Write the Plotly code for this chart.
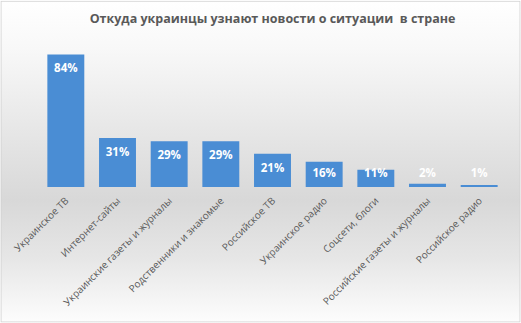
import base64
import plotly.graph_objects as go

categories = ["Украинское ТВ", "Интернет-сайты", "Украинские газеты и журналы",
              "Родственники и знакомые", "Российское ТВ", "Украинское радио",
              "Соцсети, блоги", "Российские газеты и журналы", "Российское радио"]
values = [84, 31, 29, 29, 21, 16, 11, 2, 1]
labels = [f"{v}%" for v in values]
title = "Откуда украинцы узнают новости о ситуации  в стране"

W, H = 521, 323
L, R, T, B = 39.6, 15.6, 44.5, 136

# background gradient as SVG image
svg = f'''<svg xmlns="http://www.w3.org/2000/svg" width="{W}" height="{H}" viewBox="0 0 {W} {H}" preserveAspectRatio="none">
<defs><linearGradient id="g" x1="0" y1="0" x2="0" y2="1">
<stop offset="0" stop-color="#ffffff"/>
<stop offset="0.15" stop-color="#f8f8f8"/>
<stop offset="0.62" stop-color="#d8d8d8"/>
<stop offset="0.80" stop-color="#e6e6e6"/>
<stop offset="1" stop-color="#fdfdfd"/>
</linearGradient></defs>
<rect x="0" y="0" width="{W}" height="{H}" fill="url(#g)"/>
<rect x="0.5" y="0.5" width="{W-1}" height="{H-1}" fill="none" stroke="#d0d0d0" stroke-width="1"/>
</svg>'''
src = "data:image/svg+xml;base64," + base64.b64encode(svg.encode()).decode()

pw = W - L - R
ph = H - T - B

fig = go.Figure()
fig.add_trace(go.Bar(
    x=categories, y=values,
    marker=dict(color="#4a8dd4", line=dict(width=0)),
    hoverinfo="skip",
))
label_y = [max(v - 9.5, 8.2) for v in values]
fig.add_trace(go.Scatter(
    x=categories, y=label_y, mode="text", text=labels,
    textfont=dict(family="Open Sans", size=11.5, color="white", weight="bold"),
    hoverinfo="skip",
))

fig.update_layout(
    width=W, height=H,
    margin=dict(l=L, r=R, t=T, b=B, pad=0, autoexpand=False),
    paper_bgcolor="white",
    plot_bgcolor="rgba(0,0,0,0)",
    showlegend=False,
    bargap=0.285,
    title=dict(text=f"<b>{title}</b>", x=0.5, xref="paper", xanchor="center",
               y=1 - 19 / H, yref="container", yanchor="middle",
               font=dict(family="Open Sans", size=12.5, color="#595959")),
    xaxis=dict(showgrid=False, zeroline=False, showline=False, ticks="",
               tickangle=-45, ticklabelstandoff=5, automargin=False,
               tickfont=dict(family="Open Sans", size=10, color="#595959")),
    yaxis=dict(range=[0, 90], visible=False, automargin=False),
    images=[dict(source=src, xref="paper", yref="paper",
                 x=-L / pw, y=1 + T / ph, sizex=W / pw, sizey=H / ph,
                 xanchor="left", yanchor="top", sizing="stretch", layer="below")],
)

fig.write_html("out.html")
